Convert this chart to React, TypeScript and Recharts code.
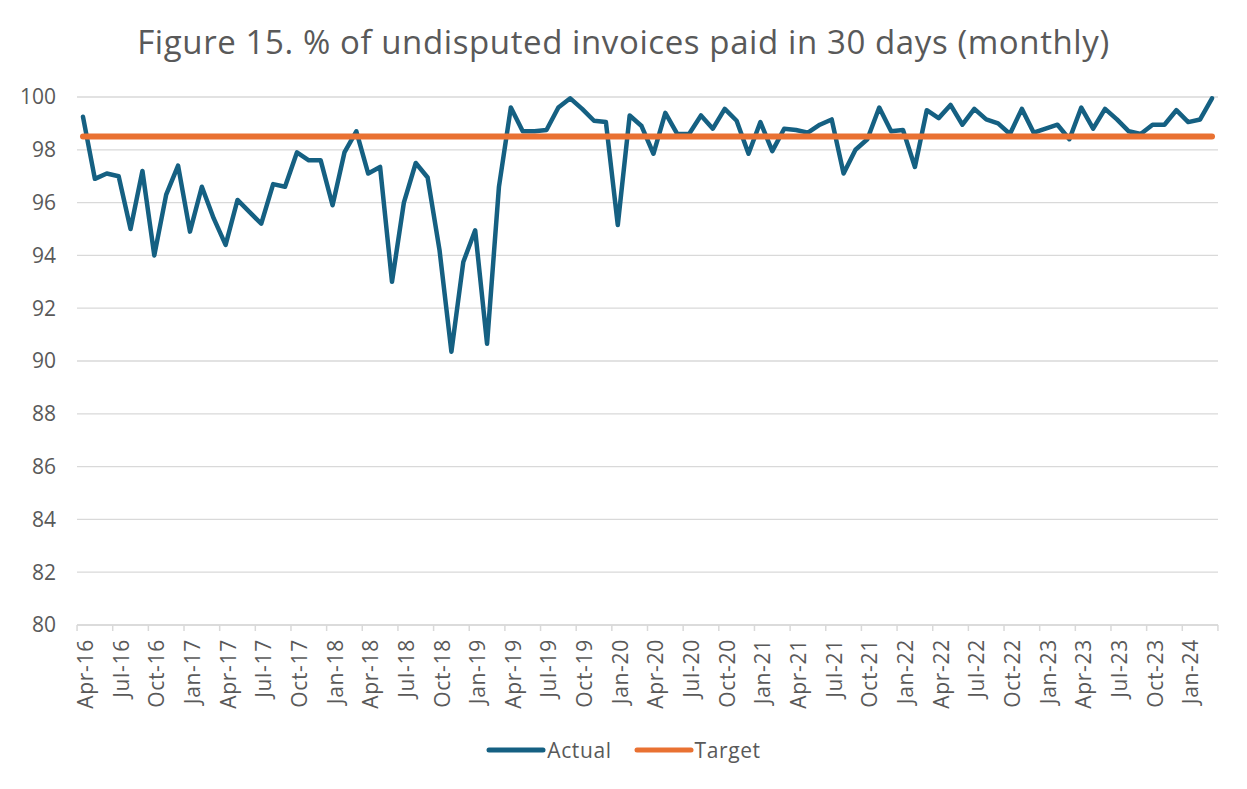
import React from 'react'
import { CartesianGrid, Legend, Line, LineChart, XAxis, YAxis } from 'recharts'

const MONTHS = [
  'Apr-16', 'May-16', 'Jun-16', 'Jul-16', 'Aug-16', 'Sep-16', 'Oct-16', 'Nov-16', 'Dec-16',
  'Jan-17', 'Feb-17', 'Mar-17', 'Apr-17', 'May-17', 'Jun-17', 'Jul-17', 'Aug-17', 'Sep-17', 'Oct-17', 'Nov-17', 'Dec-17',
  'Jan-18', 'Feb-18', 'Mar-18', 'Apr-18', 'May-18', 'Jun-18', 'Jul-18', 'Aug-18', 'Sep-18', 'Oct-18', 'Nov-18', 'Dec-18',
  'Jan-19', 'Feb-19', 'Mar-19', 'Apr-19', 'May-19', 'Jun-19', 'Jul-19', 'Aug-19', 'Sep-19', 'Oct-19', 'Nov-19', 'Dec-19',
  'Jan-20', 'Feb-20', 'Mar-20', 'Apr-20', 'May-20', 'Jun-20', 'Jul-20', 'Aug-20', 'Sep-20', 'Oct-20', 'Nov-20', 'Dec-20',
  'Jan-21', 'Feb-21', 'Mar-21', 'Apr-21', 'May-21', 'Jun-21', 'Jul-21', 'Aug-21', 'Sep-21', 'Oct-21', 'Nov-21', 'Dec-21',
  'Jan-22', 'Feb-22', 'Mar-22', 'Apr-22', 'May-22', 'Jun-22', 'Jul-22', 'Aug-22', 'Sep-22', 'Oct-22', 'Nov-22', 'Dec-22',
  'Jan-23', 'Feb-23', 'Mar-23', 'Apr-23', 'May-23', 'Jun-23', 'Jul-23', 'Aug-23', 'Sep-23', 'Oct-23', 'Nov-23', 'Dec-23',
  'Jan-24', 'Feb-24', 'Mar-24',
]

const ACTUAL = [
  99.25, 96.9, 97.1, 97.0, 95.0, 97.2, 94.0, 96.3, 97.4,
  94.9, 96.6, 95.4, 94.4, 96.1, 95.65, 95.2, 96.7, 96.6, 97.9, 97.6, 97.6,
  95.9, 97.9, 98.7, 97.1, 97.35, 93.0, 96.0, 97.5, 96.95, 94.2, 90.35, 93.75,
  94.95, 90.65, 96.6, 99.6, 98.7, 98.7, 98.75, 99.6, 99.95, 99.55, 99.1, 99.05,
  95.15, 99.3, 98.9, 97.85, 99.4, 98.6, 98.6, 99.3, 98.8, 99.55, 99.1, 97.85,
  99.05, 97.95, 98.8, 98.75, 98.65, 98.95, 99.15, 97.1, 98.0, 98.4, 99.6, 98.7,
  98.75, 97.35, 99.5, 99.2, 99.7, 98.95, 99.55, 99.15, 99.0, 98.6, 99.55, 98.65,
  98.8, 98.95, 98.4, 99.6, 98.8, 99.55, 99.15, 98.7, 98.6, 98.95, 98.95, 99.5,
  99.05, 99.15, 99.95,
]

const TARGET = 98.5
const Y_TICKS = [80, 82, 84, 86, 88, 90, 92, 94, 96, 98, 100]

const data = MONTHS.map((m, i) => ({ month: m, actual: ACTUAL[i], target: TARGET }))

const FONT = '"Open Sans", sans-serif'
const TEXT = '#595959'
const STEP = (1141 - 12) / (MONTHS.length - 1)

const MonthTick = (props: any) => {
  const { x, y, payload } = props
  const idx = MONTHS.indexOf(payload.value)
  if (idx < 0) return null
  const last = idx === MONTHS.length - 1
  return (
    <g>
      {idx % 3 === 0 && (
        <>
          <line x1={x - STEP / 2} x2={x - STEP / 2} y1={y} y2={y + 6} stroke="#d9d9d9" strokeWidth={1.5} />
          <text
            x={0}
            y={0}
            transform={`translate(${x + 2}, ${y + 14}) rotate(-90)`}
            textAnchor="end"
            dominantBaseline="central"
            fill={TEXT}
            fontSize={21}
            letterSpacing={0.7}
            fontFamily={FONT}
          >
            {payload.value}
          </text>
        </>
      )}
      {last && (
        <line x1={x + STEP / 2} x2={x + STEP / 2} y1={y} y2={y + 6} stroke="#d9d9d9" strokeWidth={1.5} />
      )}
    </g>
  )
}

const renderLegend = () => {
  const items = [
    { name: 'Actual', color: '#156082' },
    { name: 'Target', color: '#E97132' },
  ]
  return (
    <div style={{ display: 'flex', justifyContent: 'center', gap: 22, height: 30, alignItems: 'center' }}>
      {items.map((it) => (
        <div key={it.name} style={{ display: 'flex', alignItems: 'center' }}>
          <svg width={60} height={10}>
            <line x1={3} x2={57} y1={5} y2={5} stroke={it.color} strokeWidth={5} strokeLinecap="round" />
          </svg>
          <span style={{ fontFamily: FONT, fontSize: 21, letterSpacing: 0.6, color: TEXT, marginLeft: 1 }}>
            {it.name}
          </span>
        </div>
      ))}
    </div>
  )
}

export default function App() {
  return (
    <div style={{ position: 'absolute', left: 0, top: 0, width: 1247, height: 789, background: '#fff' }}>
      <div
        style={{
          position: 'absolute',
          top: 25,
          left: 0,
          width: 1247,
          textAlign: 'center',
          fontFamily: FONT,
          fontSize: 33,
          lineHeight: '33px',
          letterSpacing: 0.6,
          color: TEXT,
        }}
      >
        Figure 15. % of undisputed invoices paid in 30 days (monthly)
      </div>
      <LineChart width={1247} height={789} data={data} margin={{ top: 97, right: 29, bottom: 24, left: 0 }}>
        <CartesianGrid vertical={false} stroke="#d9d9d9" strokeWidth={1.3} />
        <XAxis
          dataKey="month"
          interval={0}
          height={110}
          padding={{ left: 6, right: 6 }}
          tickLine={false}
          tickSize={0}
          tickMargin={0}
          stroke="#d9d9d9"
          strokeWidth={1.5}
          tick={<MonthTick />}
        />
        <YAxis
          domain={[80, 100]}
          ticks={Y_TICKS}
          width={77}
          axisLine={false}
          tickLine={false}
          tickSize={0}
          tickMargin={21}
          tick={{ fill: TEXT, fontSize: 21, fontFamily: FONT }}
        />
        <Legend
          verticalAlign="bottom"
          content={renderLegend}
          wrapperStyle={{ left: 0, width: 1247 }}
        />
        <Line
          type="linear"
          dataKey="actual"
          name="Actual"
          stroke="#156082"
          strokeWidth={4.5}
          strokeLinejoin="round"
          strokeLinecap="round"
          dot={false}
          isAnimationActive={false}
        />
        <Line
          type="linear"
          dataKey="target"
          name="Target"
          stroke="#E97132"
          strokeWidth={6}
          strokeLinecap="round"
          dot={false}
          isAnimationActive={false}
        />
      </LineChart>
    </div>
  )
}
